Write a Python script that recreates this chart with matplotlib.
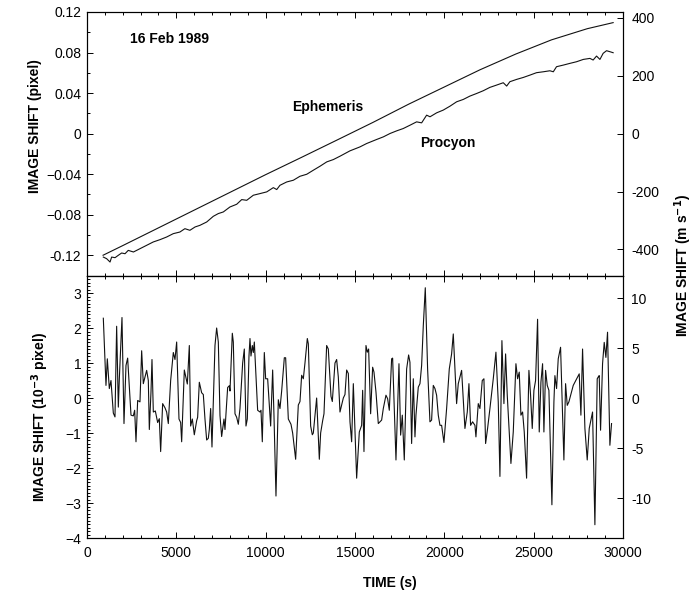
import matplotlib
matplotlib.use('Agg')
import matplotlib.pyplot as plt
from matplotlib.ticker import MultipleLocator

plt.rcParams['font.family'] = ['Liberation Sans', 'DejaVu Sans']

# ephemeris prediction: time (s), image shift (pixel)
eph_t = [900, 2000, 4000, 6000, 8000, 10000, 12000, 14000, 16000,
         18000, 20000, 22000, 24000, 26000, 28000, 29450]
eph_v = [-0.1200, -0.1105, -0.0930, -0.0755, -0.0580, -0.0405, -0.0235, -0.0063,
         0.0110, 0.0290, 0.0460, 0.0630, 0.0785, 0.0925, 0.1035, 0.1095]

# measured shift of Procyon
pro_t = [914, 1100, 1290, 1380, 1570, 1750, 1940, 2130, 2310, 2600, 2970, 3340,
         3710, 4090, 4460, 4830, 5200, 5480, 5760, 6050, 6320, 6700, 7070, 7350,
         7630, 8000, 8380, 8660, 8940, 9310, 9680, 10060, 10430, 10620, 10800,
         11180, 11550, 11920, 12300, 12670, 13040, 13420, 13790, 14160, 14720,
         15280, 15650, 16210, 16590, 16960, 17330, 17700, 18080, 18450, 18730,
         19010, 19200, 19570, 19940, 20320, 20690, 21060, 21430, 21810, 22180,
         22550, 22930, 23300, 23490, 23670, 24050, 24420, 24790, 25160, 25540,
         25910, 26100, 26280, 26660, 27030, 27400, 27780, 28150, 28330, 28520,
         28710, 28890, 29080, 29270, 29450]
pro_v = [-0.1218, -0.1234, -0.1267, -0.1218, -0.1224, -0.1201, -0.1178, -0.1185,
         -0.1152, -0.1168, -0.1135, -0.1102, -0.1069, -0.1046, -0.1020, -0.0987,
         -0.0971, -0.0938, -0.0954, -0.0921, -0.0905, -0.0872, -0.0816, -0.0789,
         -0.0773, -0.0724, -0.0697, -0.0651, -0.0658, -0.0608, -0.0592, -0.0575,
         -0.0533, -0.0552, -0.0510, -0.0477, -0.0460, -0.0421, -0.0401, -0.0361,
         -0.0322, -0.0279, -0.0256, -0.0223, -0.0170, -0.0131, -0.0098, -0.0058,
         -0.0032, 0.0001, 0.0027, 0.0050, 0.0083, 0.0116, 0.0106, 0.0182, 0.0166,
         0.0205, 0.0232, 0.0271, 0.0314, 0.0337, 0.0370, 0.0396, 0.0423, 0.0456,
         0.0479, 0.0502, 0.0469, 0.0512, 0.0535, 0.0554, 0.0577, 0.0601, 0.0610,
         0.0620, 0.0610, 0.0660, 0.0676, 0.0693, 0.0709, 0.0732, 0.0742, 0.0726,
         0.0765, 0.0732, 0.0792, 0.0818, 0.0808, 0.0798]

# residual shift after removing the trend (10^-3 pixel)
res_t = [914, 1063, 1138, 1250, 1343, 1474, 1567, 1660, 1754, 1810, 1959, 2071,
         2183, 2276, 2463, 2593, 2668, 2743, 2836, 2966, 3060, 3153, 3340, 3433,
         3489, 3582, 3638, 3713, 3825, 3955, 4049, 4123, 4235, 4366, 4459, 4552,
         4683, 4832, 4925, 5019, 5149, 5243, 5299, 5448, 5578, 5616, 5728, 5802,
         5896, 6007, 6138, 6194, 6287, 6418, 6511, 6604, 6698, 6791, 6847, 6922,
         6996, 7164, 7257, 7351, 7444, 7537, 7668, 7724, 7873, 7966, 8004, 8134,
         8190, 8284, 8377, 8470, 8563, 8713, 8806, 8899, 8974, 9067, 9123, 9179,
         9254, 9310, 9366, 9552, 9683, 9739, 9813, 9925, 10000, 10112, 10280,
         10392, 10466, 10578, 10709, 10802, 10896, 11045, 11119, 11269, 11418,
         11511, 11679, 11828, 11922, 12015, 12108, 12201, 12332, 12388, 12519,
         12612, 12668, 12761, 12854, 13004, 13078, 13190, 13265, 13414, 13507,
         13657, 13731, 13881, 13974, 14067, 14160, 14254, 14347, 14440, 14534,
         14627, 14720, 14813, 14907, 15093, 15242, 15373, 15429, 15503, 15615,
         15690, 15764, 15876, 15988, 16063, 16175, 16305, 16492, 16585, 16734,
         16827, 16921, 17051, 17107, 17294, 17462, 17555, 17648, 17760, 17891,
         18002, 18077, 18170, 18264, 18357, 18413, 18543, 18637, 18730, 18823,
         18935, 19065, 19196, 19289, 19383, 19476, 19569, 19662, 19756, 19849,
         19979, 20129, 20278, 20408, 20502, 20688, 20781, 20968, 21154, 21285,
         21378, 21471, 21583, 21714, 21770, 21900, 21994, 22124, 22217, 22311,
         22422, 22553, 22740, 22889, 23019, 23113, 23224, 23336, 23430, 23523,
         23616, 23728, 23859, 24008, 24101, 24194, 24287, 24381, 24474, 24605,
         24735, 24828, 24922, 25015, 25108, 25220, 25313, 25407, 25500, 25574,
         25668, 25761, 25854, 26022, 26134, 26190, 26283, 26376, 26507, 26693,
         26787, 26880, 26973, 27216, 27551, 27645, 27738, 27869, 27999, 28111,
         28204, 28297, 28428, 28558, 28614, 28670, 28745, 28857, 28950, 29043,
         29136, 29267, 29360]
res_v = [2.28, 0.36, 1.12, 0.27, 0.50, -0.43, -0.54, 2.05, -0.26, 0.55, 2.30, -0.73,
         0.93, 1.14, -0.49, -0.51, -0.35, -1.25, -0.07, -0.11, 1.35, 0.41, 0.79, 0.50,
         -0.90, 0.17, 1.10, -0.40, -0.37, -0.70, -0.59, -1.53, -0.16, -0.28, -0.40, -0.73,
         0.50, 1.30, 1.10, 1.60, -0.60, -0.70, -1.25, 0.80, 0.50, 0.40, 1.50, -0.80,
         -0.60, -1.05, -0.65, -0.55, 0.45, 0.15, 0.10, -0.60, -1.20, -1.15, -0.90, -0.30,
         -1.40, 1.50, 2.00, 1.60, -0.50, -1.10, -0.60, -0.90, 0.30, 0.35, 0.20, 1.85,
         1.60, -0.45, -0.55, -0.75, -0.30, 1.00, 1.40, -0.80, -0.60, 1.20, 1.70, 1.20,
         1.50, 1.30, 1.60, -0.35, -0.40, -0.35, -1.25, 1.30, 0.55, 0.55, -0.80,
         0.80, -0.50, -2.80, -0.05, -0.30, 0.20, 1.15, 1.15, -0.60, -0.75,
         -1.00, -1.75, -0.20, -0.10, 0.65, 0.55, 1.00, 1.70, 1.55, -0.80,
         -1.05, -1.00, -0.50, 0.00, -1.75, -1.00, -0.65, -0.45, 1.50, 1.40,
         0.05, -0.10, 1.00, 1.10, 0.60, -0.40, -0.20, 0.00, 0.10, 0.80,
         0.70, -0.68, -1.25, 0.41, -2.29, -0.97, -0.78, 0.22, -1.53, 1.50,
         1.31, 1.40, -0.45, 0.88, 0.74, 0.17, -0.73, -0.63, -0.30, 0.08,
         -0.02, -0.35, 1.12, 1.14, -1.77, 0.98, -1.06, -0.49, -1.77, 0.83,
         1.23, 1.02, -1.30, 0.55, -1.11, -0.49, 0.31, 0.41, 0.93, 2.06,
         3.15, 0.83, -0.68, -0.63, 0.36, 0.27, 0.08, -0.49, -0.78, -0.78,
         -1.27, -0.30, 0.83, 1.26, 1.83, -0.16, 0.41, 0.79, -0.87, -0.40,
         0.41, -0.78, -0.68, -0.78, -1.11, -0.16, -0.30, 0.50, 0.55, -1.30,
         -0.87, -0.30, 0.55, 1.31, -0.11, -2.24, 1.64, -0.16, 1.26, 0.08,
         -0.78, -1.87, -0.97, 0.98, 0.55, 0.74, -0.49, -0.40, -0.97, -2.29,
         0.79, 0.08, -0.87, 0.22, 0.50, 2.25, -0.97, 0.45, 0.98, -0.97,
         0.79, 0.36, 0.22, -3.05, -0.11, 0.64, 0.27, 1.12, 1.45, -1.77,
         0.41, -0.21, -0.11, 0.36, 0.69, -0.49, 1.40, -0.87, -1.77, -0.87,
         -0.63, -0.40, -3.62, 0.55, 0.60, 0.64, -0.92, 0.98, 1.59, 1.16,
         1.88, -1.35, -0.73]

top_ticks = [-0.12, -0.08, -0.04, 0, 0.04, 0.08, 0.12]
top_labels = ['-0.12', '\u22120.08', '\u22120.04', '0', '0.04', '0.08', '0.12']
vel_ticks_top = [-400, -200, 0, 200, 400]
vel_ticks_bot = [-10, -5, 0, 5, 10]

ms_per_pixel = 3500.0   # m/s corresponding to one pixel of image shift

line_kw = dict(color='#111111', lw=0.8)
tick_kw = dict(direction='in', labelsize=10, width=0.7)

fig = plt.figure(figsize=(6.97, 5.93), dpi=100)
ax1 = fig.add_axes([0.1248, 0.5354, 0.7690, 0.4444])
ax2 = fig.add_axes([0.1248, 0.0927, 0.7690, 0.4427])

# upper panel: absolute shifts
ax1.plot(eph_t, eph_v, **line_kw)
ax1.plot(pro_t, pro_v, **line_kw)
ax1.set_xlim(0, 30000)
ax1.set_ylim(-0.14, 0.12)
ax1.set_yticks(top_ticks)
ax1.set_yticklabels(top_labels)
ax1.yaxis.set_minor_locator(MultipleLocator(0.02))
ax1.text(2400, 0.0933, '16 Feb 1989', fontsize=10, fontweight='bold', va='center')
ax1.text(11470, 0.0261, 'Ephemeris', fontsize=10, fontweight='bold', va='center')
ax1.text(18630, -0.0095, 'Procyon', fontsize=10, fontweight='bold', va='center')

# lower panel: residuals
ax2.plot(res_t, res_v, **line_kw)
ax2.set_xlim(0, 30000)
ax2.set_ylim(-4, 3.5)
ax2.yaxis.set_major_locator(MultipleLocator(1))
ax2.yaxis.set_minor_locator(MultipleLocator(0.1))

for ax in (ax1, ax2):
    ax.xaxis.set_major_locator(MultipleLocator(5000))
    ax.xaxis.set_minor_locator(MultipleLocator(1000))
    ax.tick_params(which='both', top=True, right=False, **tick_kw)
    ax.tick_params(which='major', length=4, pad=4)
    ax.tick_params(which='minor', length=2.2)
    for s in ax.spines.values():
        s.set_linewidth(0.8)
ax1.tick_params(axis='x', labelbottom=False)
ax2.tick_params(axis='x', pad=6)

# velocity scales on the right
for ax, ticks in ((ax1, vel_ticks_top), (ax2, vel_ticks_bot)):
    axr = ax.twinx()
    lo, hi = ax.get_ylim()
    scale = ms_per_pixel if ax is ax1 else ms_per_pixel / 1000.0
    axr.set_ylim(lo * scale, hi * scale)
    axr.set_yticks(ticks)
    axr.set_yticklabels([str(t) for t in ticks])
    axr.tick_params(direction='in', length=4, width=0.7, labelsize=10, pad=6)
    for s in axr.spines.values():
        s.set_linewidth(0.8)

fig.text(0.050, 0.787, 'IMAGE SHIFT (pixel)', rotation=90, ha='center', va='center',
         fontsize=10, fontweight='bold')
fig.text(0.057, 0.297, 'IMAGE SHIFT (10$^{\\mathbf{-3}}$ pixel)', rotation=90,
         ha='center', va='center', fontsize=10, fontweight='bold')
fig.text(0.980, 0.553, 'IMAGE SHIFT (m s$^{\\mathbf{-1}}$)', rotation=90, ha='center',
         va='center', fontsize=10, fontweight='bold')
fig.text(0.5596, 0.0169, 'TIME (s)', ha='center', va='center', fontsize=10,
         fontweight='bold')

fig.savefig('out.png', dpi=100)
